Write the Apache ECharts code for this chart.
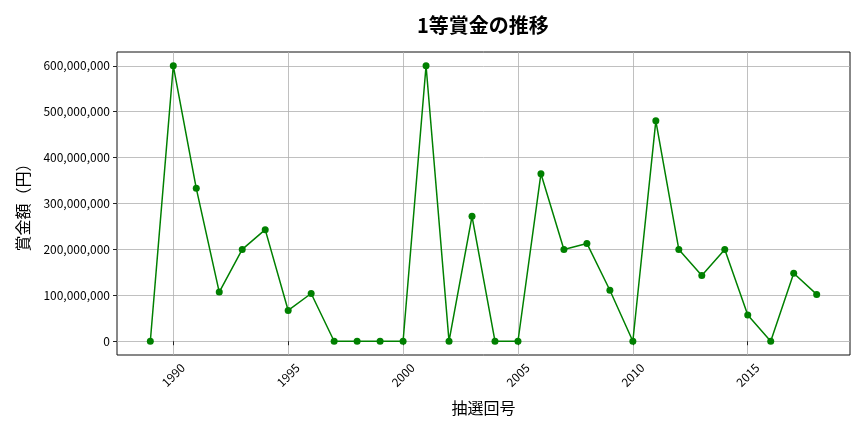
<!DOCTYPE html>
<html>
<head>
<meta charset="utf-8">
<script src="https://cdn.jsdelivr.net/npm/echarts@6/dist/echarts.min.js"></script>
<style>html,body{margin:0;padding:0;background:#fff}#c{width:864px;height:432px}</style>
</head>
<body>
<div id="c"></div>
<script>
const years = [1989,1990,1991,1992,1993,1994,1995,1996,1997,1998,1999,2000,2001,2002,2003,2004,2005,2006,2007,2008,2009,2010,2011,2012,2013,2014,2015,2016,2017,2018];
const prizes = [0,600000000,333000000,107000000,200000000,243000000,67000000,104000000,0,0,0,0,600000000,0,272000000,0,0,365000000,200000000,213000000,111000000,0,480000000,200000000,143000000,200000000,57000000,0,148000000,102000000];
const xTicks = [1990,1995,2000,2005,2010,2015];
const yTicks = [0,100000000,200000000,300000000,400000000,500000000,600000000];

const font = '"Noto Sans CJK JP", "Noto Sans", sans-serif';
const chart = echarts.init(document.getElementById('c'));
chart.setOption({
  animation: false,
  backgroundColor: '#fff',
  title: {
    text: '1等賞金の推移', left: 412, top: 10,
    textStyle: { fontFamily: font, fontSize: 20, fontWeight: 'bold', color: '#000' }
  },
  grid: { left: 117, right: 14, top: 52, bottom: 77, show: true, borderColor: '#111', borderWidth: 1 },
  xAxis: {
    type: 'value', min: 1987.55, max: 2019.45,
    name: '抽選回号', nameLocation: 'middle', nameGap: 45,
    nameTextStyle: { fontFamily: font, fontSize: 16, color: '#000' },
    axisLine: { show: false },
    axisTick: { show: true, length: 4, inside: false, customValues: xTicks, lineStyle: { color: '#222' } },
    axisLabel: {
      customValues: xTicks, rotate: 45, align: 'center', verticalAlign: 'middle',
      fontFamily: font, fontSize: 12, color: '#000', margin: 20,
      formatter: v => String(v)
    },
    splitLine: { show: true, lineStyle: { color: '#b0b0b0', width: 0.8 } }
  },
  yAxis: {
    type: 'value', min: -30000000, max: 630000000,
    name: '賞金額（円）', nameLocation: 'middle', nameGap: 86, nameRotate: 90,
    nameTextStyle: { fontFamily: font, fontSize: 16, color: '#000' },
    axisLine: { show: false },
    axisTick: { show: true, length: 4, customValues: yTicks, lineStyle: { color: '#222' } },
    axisLabel: {
      customValues: yTicks, fontFamily: font, fontSize: 12, color: '#000', margin: 7,
      formatter: v => Math.round(v).toLocaleString('en-US')
    },
    splitLine: { show: true, lineStyle: { color: '#b0b0b0', width: 0.8 } }
  },
  series: [{
    type: 'line',
    data: years.map((y, i) => [y, prizes[i]]),
    symbol: 'circle', symbolSize: 7,
    itemStyle: { color: '#008000' },
    lineStyle: { color: '#008000', width: 1.5 }
  }]
});
</script>
</body>
</html>
